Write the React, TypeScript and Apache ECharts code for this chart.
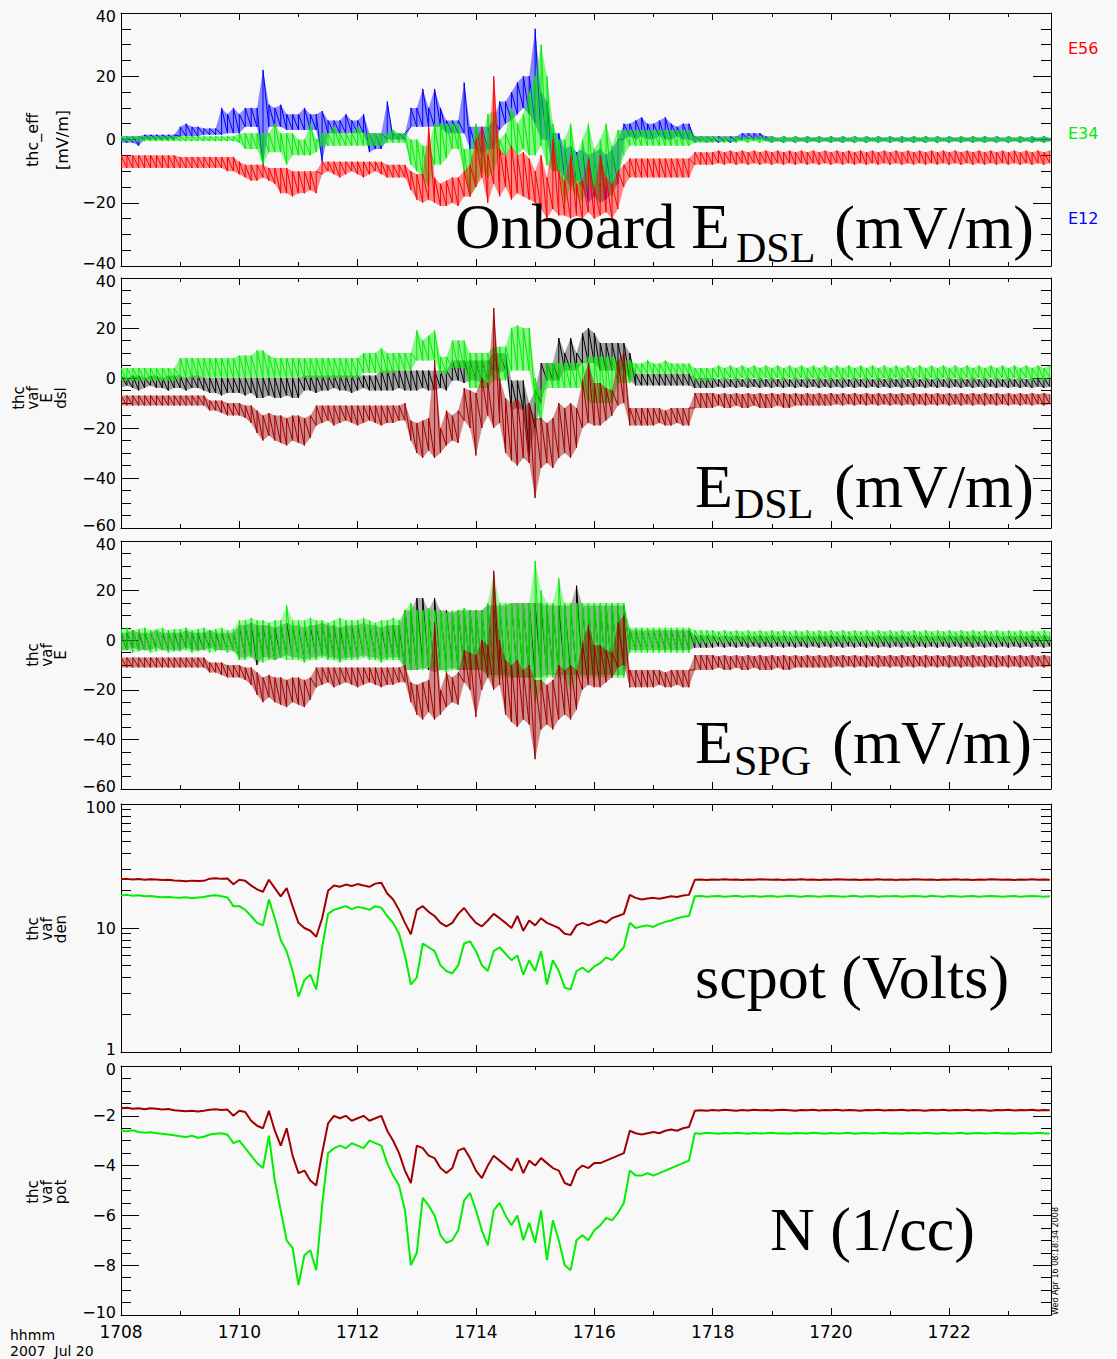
import React, { useEffect, useRef } from "react";
import * as echarts from "echarts";

// Sample grid: minutes after 17:08 UT, one sample every 0.1 min
const T: number[] = Array.from({ length: 158 }, (_, k) => k / 10);
const T_END = 15.72;
const X_MAJOR = [0, 2, 4, 6, 8, 10, 12, 14];
const X_MINOR = [1, 3, 5, 7, 9, 11, 13, 15];

// ---------- Panel 1: thc_eff (mV/m), lo/hi envelope per sample ----------
const E12_LO = [
  -1, -1, -1, -2, 0, 0, 0, 0, 0, 0,
  1, 1, 1, 1, 1.5, 1.5, 1.5, 1.5, 2, 2,
  2, 4, 4, 4, -8, 4, 4, 4, 3, 3,
  3, 3, 3, 3, -7, 2, 2, 2, 2, 2,
  2, 2, -4, -3, -3, 0, 0, 0, 0, 4,
  4, 4, 4, 4, 4, 2, 2, 2, 2, -3,
  -3, -5, -3, -3, 3, 5, 6, 8, 10, 8,
  5, 0, 0, -10, -10, -12, -15, -13, -15, -20,
  -18, -20, -19, -17, -14, 0, 1, 0, 1, 0,
  0, 1, 0, 0, 1, 0, 0, -1, -0.5, -1,
  -0.5, -1, -0.5, -1, -0.5, 0, 0, 0, 0, -0.5,
  -1, -0.5, -1, -0.5, -1, -0.5, -1, -0.5, -1, -0.5,
  -1, -0.5, -1, -0.5, -1, -0.5, -1, -0.5, -1, -0.5,
  -1, -0.5, -1, -0.5, -1, -0.5, -1, -0.5, -1, -0.5,
  -1, -0.5, -1, -0.5, -1, -0.5, -1, -0.5, -1, -0.5,
  -1, -0.5, -1, -0.5, -1, -0.5, -1, -0.5,
];
const E12_HI = [
  1, 1, 1, 1, 1.5, 1.5, 1.5, 1.5, 1.5, 1.5,
  4, 5, 4, 4, 3.5, 3.5, 3.5, 10, 8, 10,
  8, 10, 10, 10, 22, 11, 10, 11, 8, 8,
  8, 10, 8, 8, 9, 6, 6, 6, 8, 6,
  6, 8, 2, 2, 2, 12, 2, 2, 2, 10,
  10, 16, 10, 16, 10, 6, 6, 6, 18, 4,
  4, 4, 4, 6, 12, 12, 15, 18, 20, 20,
  35, 15, 12, 2, 2, -3, -2, -4, -3, -5,
  -4, -3, -5, -3, 0, 5, 5, 6, 7, 5,
  5, 6, 7, 5, 4, 5, 5, 1, 1, 1,
  1, 1, 1, 1, 1, 2, 2, 2, 2, 1,
  1, 0.5, 1, 0.5, 1, 0.5, 1, 0.5, 1, 0.5,
  1, 0.5, 1, 0.5, 1, 0.5, 1, 0.5, 1, 0.5,
  1, 0.5, 1, 0.5, 1, 0.5, 1, 0.5, 1, 0.5,
  1, 0.5, 1, 0.5, 1, 0.5, 1, 0.5, 1, 0.5,
  1, 0.5, 1, 0.5, 1, 0.5, 1, 0.5,
];
const E34_LO = [
  -0.5, -0.5, -0.5, -0.5, -0.5, -0.5, -0.5, -0.5, -0.5, -0.5,
  -0.5, -0.5, -0.5, -0.5, -0.5, -0.5, -0.5, -0.5, -0.5, -0.5,
  -1, -3, -3, -3, -8, -4, -4, -4, -8, -5,
  -5, -5, -5, -4, -2, -2, -2, -2, -2, -2,
  -2, -2, -2, -2, -2, -1, -1, -1, -1, -8,
  -10, -12, -15, -8, -8, -6, -3, -3, -10, -18,
  -15, -10, -12, -10, -5, -5, -3, -5, -3, -5,
  -5, -2, -8, -10, -10, -20, -15, -18, -20, -14,
  -17, -20, -15, -18, -12, -5, -2, -2, -2, -2,
  -2, -2, -2, -2, -2, -2, -2, -1, -1, -1,
  -1, -0.5, -1, -0.5, -1, -0.5, -1, -0.5, -1, -0.5,
  -1, -0.5, -1, -0.5, -1, -0.5, -1, -0.5, -1, -0.5,
  -1, -0.5, -1, -0.5, -1, -0.5, -1, -0.5, -1, -0.5,
  -1, -0.5, -1, -0.5, -1, -0.5, -1, -0.5, -1, -0.5,
  -1, -0.5, -1, -0.5, -1, -0.5, -1, -0.5, -1, -0.5,
  -1, -0.5, -1, -0.5, -1, -0.5, -1, -0.5,
];
const E34_HI = [
  1, 1, 1, 1, 1, 1, 1, 1, 1, 1,
  1, 1, 1, 1, 1, 1, 1, 1, 1, 1,
  2, 2, 2, 2, 2, 2, 5, 2, 2, 2,
  0, 0, 5, 0, 2, 2, 4, 2, 2, 2,
  4, 2, 2, 2, 2, 2, 3, 2, 2, 0,
  0, -2, -2, 5, 5, 5, 5, 5, -3, -3,
  5, 0, 8, 9, 0, 2, 10, 5, 8, 15,
  20, 30, 20, 5, 0, 0, 5, -5, 0, 5,
  -3, 0, 5, -2, 3, 3, 3, 3, 3, 3,
  3, 3, 3, 3, 3, 3, 3, 1, 1, 1,
  1, 0.5, 1, 0.5, 1, 0.5, 1, 0.5, 1, 0.5,
  1, 0.5, 1, 0.5, 1, 0.5, 1, 0.5, 1, 0.5,
  1, 0.5, 1, 0.5, 1, 0.5, 1, 0.5, 1, 0.5,
  1, 0.5, 1, 0.5, 1, 0.5, 1, 0.5, 1, 0.5,
  1, 0.5, 1, 0.5, 1, 0.5, 1, 0.5, 1, 0.5,
  1, 0.5, 1, 0.5, 1, 0.5, 1, 0.5,
];
const E56_LO = [
  -9, -9, -9, -9, -9, -9, -9, -9, -9, -9,
  -9, -9, -9, -9, -9, -9, -9, -9, -10, -10,
  -11, -12, -13, -13, -12, -13, -14, -17, -17, -18,
  -17, -17, -16, -17, -11, -10, -11, -12, -11, -10,
  -11, -12, -11, -10, -11, -12, -12, -12, -12, -16,
  -19, -20, -19, -20, -21, -21, -20, -21, -18, -18,
  -15, -12, -20, -14, -18, -15, -19, -17, -18, -19,
  -20, -22, -25, -22, -24, -24, -25, -24, -25, -23,
  -25, -24, -23, -25, -22, -15, -12, -12, -12, -12,
  -12, -12, -12, -12, -12, -12, -12, -8, -8, -8,
  -8, -7.5, -8, -7.5, -8, -7.5, -8, -7.5, -8, -7.5,
  -8, -7.5, -8, -7.5, -8, -7.5, -8, -7.5, -8, -7.5,
  -8, -7.5, -8, -7.5, -8, -7.5, -8, -7.5, -8, -7.5,
  -8, -7.5, -8, -7.5, -8, -7.5, -8, -7.5, -8, -7.5,
  -8, -7.5, -8, -7.5, -8, -7.5, -8, -7.5, -8, -7.5,
  -8, -7.5, -8, -7.5, -8, -7.5, -8, -7.5,
];
const E56_HI = [
  -5, -5, -5, -5, -5, -5, -5, -5, -5, -5,
  -5.5, -5.5, -5.5, -5.5, -5.5, -5.5, -5.5, -5.5, -5.5, -5.5,
  -7, -8, -8, -8, -8, -9, -9, -9, -9, -10,
  -10, -10, -10, -10, -7, -7, -7, -7, -7, -7,
  -7, -7, -7, -7, -7, -8, -8, -8, -8, -10,
  -11, -11, 4, -12, -14, -13, -12, -12, -10, -8,
  0, 4, -5, 20, -3, -5, -2, -5, -4, -6,
  -10, -5, -12, 0, -10, -13, -5, -14, -13, -6,
  -15, -5, -12, -14, -10, -8, -6, -6, -6, -6,
  -6, -6, -6, -6, -6, -6, -6, -4, -4, -4,
  -4, -3.5, -4, -3.5, -4, -3.5, -4, -3.5, -4, -3.5,
  -4, -3.5, -4, -3.5, -4, -3.5, -4, -3.5, -4, -3.5,
  -4, -3.5, -4, -3.5, -4, -3.5, -4, -3.5, -4, -3.5,
  -4, -3.5, -4, -3.5, -4, -3.5, -4, -3.5, -4, -3.5,
  -4, -3.5, -4, -3.5, -4, -3.5, -4, -3.5, -4, -3.5,
  -4, -3.5, -4, -3.5, -4, -3.5, -4, -3.5,
];

// ---------- Panels 2 & 3: E-field (mV/m) ----------
// Ez (shown in both DSL and SPG panels)
const EZ_LO = [
  -11, -11, -11, -11, -11, -11, -11, -11, -11, -11,
  -11, -11, -11, -11, -11, -13, -13, -14, -15, -15,
  -15, -16, -18, -22, -25, -23, -25, -26, -27, -25,
  -26, -27, -24, -19, -18, -17, -19, -18, -17, -18,
  -19, -18, -17, -18, -19, -18, -18, -17, -17, -25,
  -30, -32, -29, -32, -30, -27, -25, -26, -17, -20,
  -31, -20, -15, -20, -18, -30, -33, -35, -32, -34,
  -48, -36, -34, -36, -32, -30, -32, -28, -20, -18,
  -19, -19, -17, -15, -11, -10, -19, -19, -19, -19,
  -19, -18, -19, -19, -18, -19, -19, -12, -12, -12,
  -12, -11, -12, -12, -11, -12, -12, -11, -12, -12,
  -12, -11, -12, -12, -11, -11, -11, -11, -11, -11,
  -11, -10.5, -11, -10.5, -11, -10.5, -11, -10.5, -11, -10.5,
  -11, -10.5, -11, -10.5, -11, -10.5, -11, -10.5, -11, -10.5,
  -11, -10.5, -11, -10.5, -11, -10.5, -11, -10.5, -11, -10.5,
  -11, -10.5, -11, -10.5, -11, -10.5, -11, -10.5,
];
const EZ_HI = [
  -7, -7, -7, -7, -7, -7, -7, -7, -7, -7,
  -7, -7, -7, -7, -7, -9, -9, -9, -10, -10,
  -10, -11, -11, -13, -15, -14, -15, -15, -16, -15,
  -15, -16, -15, -11, -11, -11, -11, -11, -11, -11,
  -11, -11, -11, -11, -11, -11, -11, -11, -10, -17,
  -18, -17, -16, 7, -20, -13, -15, -13, -4, -5,
  -6, 0, -2, 28, 0, -8, -10, -8, -12, -10,
  -16, -16, -18, -16, -10, -12, -10, -12, -1, 6,
  -2, -2, -4, -5, 7, 10, -12, -12, -12, -12,
  -12, -12, -13, -12, -12, -12, -12, -6, -6, -6,
  -6, -6.5, -6, -6.5, -6, -6.5, -6, -6.5, -6, -6.5,
  -6, -6.5, -6, -6.5, -6, -6.5, -6, -6.5, -6, -6.5,
  -6, -6.5, -6, -6.5, -6, -6.5, -6, -6.5, -6, -6.5,
  -6, -6.5, -6, -6.5, -6, -6.5, -6, -6.5, -6, -6.5,
  -6, -6.5, -6, -6.5, -6, -6.5, -6, -6.5, -6, -6.5,
  -6, -6.5, -6, -6.5, -6, -6.5, -6, -6.5,
];
// Ex DSL (black)
const EXD_LO = [
  -4, -3, -4, -5, -4, -3, -4, -4, -5, -4,
  -4, -5, -4, -4, -5, -6, -6, -7, -6, -6,
  -6, -7, -6, -8, -8, -7, -8, -8, -7, -8,
  -8, -5, -5, -6, -5, -5, -4, -5, -5, -6,
  -5, -4, -5, -5, -5, -5, -5, -4, -5, -5,
  -5, -4, -5, -5, -4, -5, -1, -1, -2, -1,
  -1, -2, -1, 3, 2, 3, -13, -12, -13, -31,
  -20, -10, -1, -1, -1, 3, 3, 3, 6, 6,
  6, 3, 3, 3, 3, 3, -1, -3, -3, -3,
  -3, -3, -3, -3, -3, -3, -3, -4, -4, -4,
  -4, -3.5, -4, -3.5, -4, -3.5, -4, -3.5, -4, -3.5,
  -4, -3.5, -4, -3.5, -4, -3.5, -4, -3.5, -4, -3.5,
  -4, -3.5, -4, -3.5, -4, -3.5, -4, -3.5, -4, -3.5,
  -4, -3.5, -4, -3.5, -4, -3.5, -4, -3.5, -4, -3.5,
  -4, -3.5, -4, -3.5, -4, -3.5, -4, -3.5, -4, -3.5,
  -4, -3.5, -4, -3.5, -4, -3.5, -4, -3.5,
];
const EXD_HI = [
  1, 0, 1, 1, 0, 1, 1, 0, 1, 1,
  1, 0, 1, 1, 0, 0, 0, 0, 0, 0,
  0, 0, 0, 0, 0, 0, 0, 0, 0, 0,
  0, 1, 1, 1, 1, 1, 1, 1, 1, 1,
  1, 1, 1, 1, 3, 3, 3, 3, 3, 3,
  3, 3, 3, 3, 3, 3, 7, 7, 7, 7,
  7, 7, 7, 10, 10, 10, -1, -1, -1, -10,
  -5, 6, 6, 6, 16, 10, 16, 10, 18, 20,
  18, 14, 14, 14, 14, 14, 10, 1.7, 1.7, 1.7,
  1.7, 1.7, 1.7, 1.7, 1.7, 1.7, 1.7, 0, 0, 0,
  0, -0.5, 0, -0.5, 0, -0.5, 0, -0.5, 0, -0.5,
  0, -0.5, 0, -0.5, 0, -0.5, 0, -0.5, 0, -0.5,
  0, -0.5, 0, -0.5, 0, -0.5, 0, -0.5, 0, -0.5,
  0, -0.5, 0, -0.5, 0, -0.5, 0, -0.5, 0, -0.5,
  0, -0.5, 0, -0.5, 0, -0.5, 0, -0.5, 0, -0.5,
  0, -0.5, 0, -0.5, 0, -0.5, 0, -0.5,
];
// Ey DSL (green)
const EYD_LO = [
  -1, -1, -1, -1, -1, -1, -1, -1, -1, -1,
  0, 0, 0, 0, 0, 0, 0, 0, 0, 0,
  0, 0, 0, 0, 0, 0, 0, 0, 0, 0,
  0, 0, 0, 0, 0, 0, 0, 0, 0, 0,
  0, 2, 2, 2, 2, 2, 2, 3, 3, 3,
  7, 7, 7, 7, 1.7, 1.7, 4, 4, 4, -4,
  -4, -4, -4, -1, -1, -1, 3, 3, 3, 3,
  -10, -19, -4, -4, -4, -4, -4, -4, -4, -10,
  -10, -10, -10, -10, -2, -2, -2, 1.7, 1.7, 1.7,
  1.7, 1.7, 1.7, 1.7, 1.7, 1.7, 1.7, -1, -1, -1,
  -1, 0, -1, 0, -1, 0, -1, 0, -1, 0,
  -1, 0, -1, 0, -1, 0, -1, 0, -1, 0,
  -1, 0, -1, 0, -1, 0, -1, 0, -1, 0,
  -1, 0, -1, 0, -1, 0, -1, 0, -1, 0,
  -1, 0, -1, 0, -1, 0, -1, 0, -1, 0,
  -1, 0, -1, 0, -1, 0, -1, 0,
];
const EYD_HI = [
  4, 4, 4, 4, 4, 4, 4, 4, 4, 4,
  8, 8, 8, 8, 8, 8, 8, 8, 8, 8,
  9, 9, 9, 11, 11, 9, 8, 8, 8, 8,
  8, 8, 8, 8, 8, 8, 8, 8, 8, 8,
  8, 10, 10, 10, 12, 10, 10, 10, 10, 10,
  19, 15, 17, 19, 8.5, 8.5, 15, 15, 15, 10,
  10, 10, 10, 12.5, 12.5, 12.5, 20, 21, 20, 20,
  0, -5, 6, 6, 6, 6, 6, 6, 6, 8.5,
  8.5, 8.5, 8.5, 8.5, 7, 7, 7, 5.8, 5.8, 7,
  5.8, 5.8, 7, 5.8, 5.8, 5.8, 5.8, 4, 4, 4,
  4, 5, 4, 5, 4, 5, 4, 5, 4, 5,
  4, 5, 4, 5, 4, 5, 4, 5, 4, 5,
  4, 5, 4, 5, 4, 5, 4, 5, 4, 5,
  4, 5, 4, 5, 4, 5, 4, 5, 4, 5,
  4, 5, 4, 5, 4, 5, 4, 5, 4, 5,
  4, 5, 4, 5, 4, 5, 4, 5,
];
// Ex SPG (black)
const EXS_LO = [
  -4, -4, -3, -4, -4, -4, -3, -4, -4, -4,
  -4, -3, -4, -4, -4, -3, -4, -4, -4, -4,
  -7, -7, -6, -10, -7, -7, -8, -7, -6, -7,
  -7, -8, -7, -7, -6, -7, -7, -8, -7, -7,
  -7, -6, -7, -7, -8, -7, -7, -7, -12, -12,
  -12, -11, -12, -13, -12, -12, -11, -12, -12, -12,
  -12, -12, -14, -14, -14, -14, -15, -15, -15, -15,
  -15, -15, -14, -14, -14, -14, -14, -14, -14, -14,
  -14, -14, -14, -14, -14, -14, -4, -4, -4, -4,
  -4, -4, -4, -4, -4, -4, -4, -3, -3, -3,
  -3, -2.5, -3, -2.5, -3, -2.5, -3, -2.5, -3, -2.5,
  -3, -2.5, -3, -2.5, -3, -2.5, -3, -2.5, -3, -2.5,
  -3, -2.5, -3, -2.5, -3, -2.5, -3, -2.5, -3, -2.5,
  -3, -2.5, -3, -2.5, -3, -2.5, -3, -2.5, -3, -2.5,
  -3, -2.5, -3, -2.5, -3, -2.5, -3, -2.5, -3, -2.5,
  -3, -2.5, -3, -2.5, -3, -2.5, -3, -2.5,
];
const EXS_HI = [
  3, 3, 4, 3, 3, 3, 4, 3, 3, 3,
  3, 4, 3, 3, 3, 4, 3, 3, 3, 3,
  6, 6, 7, 6, 6, 6, 5, 6, 7, 6,
  6, 5, 6, 6, 7, 6, 6, 5, 6, 6,
  6, 7, 6, 6, 5, 6, 6, 6, 12, 12,
  17, 17, 12, 17, 12, 12, 11, 12, 12, 12,
  12, 12, 14, 14, 14, 14, 15, 15, 15, 15,
  15, 15, 14, 14, 14, 14, 14, 22, 14, 14,
  14, 14, 14, 14, 14, 14, 4, 4, 4, 4,
  4, 4, 4, 4, 4, 4, 4, 2, 2, 2,
  2, 1.5, 2, 1.5, 2, 1.5, 2, 1.5, 2, 1.5,
  2, 1.5, 2, 1.5, 2, 1.5, 2, 1.5, 2, 1.5,
  2, 1.5, 2, 1.5, 2, 1.5, 2, 1.5, 2, 1.5,
  2, 1.5, 2, 1.5, 2, 1.5, 2, 1.5, 2, 1.5,
  2, 1.5, 2, 1.5, 2, 1.5, 2, 1.5, 2, 1.5,
  2, 1.5, 2, 1.5, 2, 1.5, 2, 1.5,
];
// Ey SPG (green)
const EYS_LO = [
  -4.5, -4, -5, -4.5, -4, -5, -4.5, -4, -5, -4.5,
  -4.5, -4, -5, -4.5, -4, -5, -4.5, -4, -5, -4.5,
  -8, -8, -7, -8, -9, -8, -8, -7, -8, -8,
  -8, -9, -8, -8, -7, -8, -8, -9, -8, -8,
  -8, -7, -8, -8, -9, -8, -8, -8, -12, -12,
  -12, -12, -11, -12, -12, -13, -12, -12, -11, -12,
  -12, -12, -15, -15, -15, -15, -15, -15, -15, -15,
  -25, -20, -15, -15, -15, -15, -20, -15, -15, -15,
  -15, -15, -15, -15, -15, -15, -5, -5, -5, -5,
  -5, -5, -5, -5, -5, -5, -5, -1, -1, -1,
  -1, -0.5, -1, -0.5, -1, -0.5, -1, -0.5, -1, -0.5,
  -1, -0.5, -1, -0.5, -1, -0.5, -1, -0.5, -1, -0.5,
  -1, -0.5, -1, -0.5, -1, -0.5, -1, -0.5, -1, -0.5,
  -1, -0.5, -1, -0.5, -1, -0.5, -1, -0.5, -1, -0.5,
  -1, -0.5, -1, -0.5, -1, -0.5, -1, -0.5, -1, -0.5,
  -1, -0.5, -1, -0.5, -1, -0.5, -1, -0.5,
];
const EYS_HI = [
  4.5, 5, 4, 4.5, 5, 4, 4.5, 5, 4, 4.5,
  4.5, 5, 4, 4.5, 5, 4, 4.5, 5, 4, 4.5,
  8, 8, 9, 8, 8, 7, 8, 8, 14, 8,
  8, 8, 9, 8, 8, 7, 8, 9, 8, 8,
  8, 9, 8, 7, 8, 8, 9, 8, 12, 15,
  12, 12, 13, 12, 12, 11, 12, 12, 13, 12,
  12, 12, 15, 27, 15, 15, 15, 15, 15, 15,
  32, 20, 15, 15, 25, 15, 15, 15, 15, 15,
  15, 15, 15, 15, 15, 15, 5, 5, 5, 5,
  5, 5, 5, 5, 5, 5, 5, 4, 4, 4,
  4, 3.5, 4, 3.5, 4, 3.5, 4, 3.5, 4, 3.5,
  4, 3.5, 4, 3.5, 4, 3.5, 4, 3.5, 4, 3.5,
  4, 3.5, 4, 3.5, 4, 3.5, 4, 3.5, 4, 3.5,
  4, 3.5, 4, 3.5, 4, 3.5, 4, 3.5, 4, 3.5,
  4, 3.5, 4, 3.5, 4, 3.5, 4, 3.5, 4, 3.5,
  4, 3.5, 4, 3.5, 4, 3.5, 4, 3.5,
];

// ---------- Panel 4: density (log) ----------
const DEN_R = [
  24.7, 24.9, 24.6, 24.8, 24.5, 24.7, 24.6, 24.4, 24.5, 24.2,
  24, 23.8, 24.1, 23.9, 24, 25, 25.2, 24.9, 25.1, 22.5,
  24.5, 24, 22, 20.5, 19.6, 24.5, 21, 18, 21, 15,
  11, 10, 9.5, 8.5, 12, 20, 22, 21.5, 22.4, 21.8,
  22.6, 22, 21.5, 22.8, 23.2, 19, 17, 14, 11, 8.9,
  14, 15, 13.5, 12.5, 11, 10.3, 11, 13, 14.5, 12.5,
  11, 10.3, 11.5, 13, 12, 11, 10, 12.5, 9.5, 11.5,
  10.5, 12, 11, 10.5, 10, 9, 8.8, 10.5, 11, 10.5,
  11, 11.5, 11, 12, 12.5, 13, 18.5, 17.5, 17, 17.3,
  17.5, 17.2, 17.6, 18, 17.8, 18.3, 18.5, 24.5, 24.6, 24.4,
  24.6, 24.5, 24.7, 24.5, 24.6, 24.4, 24.6, 24.5, 24.7, 24.6,
  24.5, 24.6, 24.4, 24.6, 24.5, 24.7, 24.5, 24.6, 24.4, 24.6,
  24.5, 24.7, 24.6, 24.5, 24.6, 24.4, 24.6, 24.5, 24.7, 24.5,
  24.6, 24.4, 24.6, 24.5, 24.7, 24.6, 24.5, 24.6, 24.4, 24.6,
  24.5, 24.7, 24.5, 24.6, 24.4, 24.6, 24.5, 24.7, 24.6, 24.5,
  24.6, 24.4, 24.6, 24.5, 24.7, 24.5, 24.6, 24.5,
];
const DEN_G = [
  18.3, 18.5, 18.2, 18.4, 18, 18.1, 17.9, 17.7, 17.8, 17.6,
  17.5, 17.7, 17.4, 17.6, 17.8, 18.2, 18.4, 18, 17.6, 15,
  15, 14, 12.5, 11, 10.5, 17, 12, 8, 6.5, 4.5,
  2.8, 3.8, 4.2, 3.2, 7, 13, 14, 14.5, 15, 14.2,
  14.8, 14.5, 14, 15, 14.6, 12.5, 11, 9, 6, 3.5,
  4, 7.5, 7, 6.5, 5, 4.5, 4.3, 5, 7.5, 7.8,
  6.5, 5, 4.5, 6.5, 7, 6.2, 5.5, 6, 4.2, 5.5,
  4.5, 6.5, 3.5, 5.5, 4.5, 3.3, 3.2, 4.5, 4.8, 4.4,
  4.9, 5.2, 5.8, 5.5, 6.2, 7, 11, 10, 10.3, 10.5,
  10.2, 10.8, 11.2, 11.5, 12, 12.3, 12.5, 18, 18.1, 17.9,
  18, 18.1, 17.9, 18, 18.2, 17.9, 18, 18.1, 17.9, 18,
  18.1, 17.9, 18, 18.2, 18, 17.9, 18.1, 18, 17.9, 18,
  18.1, 18, 17.9, 18, 18.2, 17.9, 18, 18.1, 17.9, 18,
  18, 18.1, 17.9, 18, 18.1, 18, 17.9, 18.2, 18, 17.9,
  18.1, 18, 17.9, 18, 18.1, 17.9, 18, 18.1, 18, 17.9,
  18, 18.1, 17.9, 18, 18.1, 18, 17.9, 18,
];

// ---------- Panel 5: spacecraft potential (V) ----------
const POT_R = [
  -1.7, -1.68, -1.72, -1.7, -1.74, -1.7, -1.72, -1.75, -1.73, -1.78,
  -1.8, -1.82, -1.8, -1.83, -1.8, -1.76, -1.74, -1.77, -1.75, -2.0,
  -1.8, -1.85, -2.2, -2.4, -2.5, -1.8, -2.6, -3.2, -2.5, -3.6,
  -4.3, -4.2, -4.6, -4.8, -3.5, -2.3, -2.0, -2.1, -2.0, -2.2,
  -2.1, -2.0, -2.2, -2.1, -2.0, -2.6, -3.0, -3.5, -4.2, -4.7,
  -3.2, -3.3, -3.6, -3.7, -4.1, -4.3, -4.1, -3.4, -3.3, -3.7,
  -4.2, -4.5, -4.0, -3.6, -3.8, -4.0, -4.2, -3.7, -4.3, -3.8,
  -4.0, -3.7, -3.9, -4.1, -4.2, -4.7, -4.8, -4.2, -4.0, -4.1,
  -3.9, -3.9, -3.8, -3.7, -3.6, -3.5, -2.6, -2.7, -2.75, -2.7,
  -2.65, -2.7, -2.6, -2.55, -2.6, -2.5, -2.45, -1.8, -1.78, -1.8,
  -1.77, -1.79, -1.76, -1.78, -1.8, -1.77, -1.79, -1.76, -1.78, -1.77,
  -1.79, -1.77, -1.76, -1.78, -1.8, -1.77, -1.78, -1.76, -1.79, -1.77,
  -1.78, -1.76, -1.79, -1.77, -1.78, -1.8, -1.77, -1.78, -1.76, -1.79,
  -1.77, -1.78, -1.76, -1.79, -1.77, -1.78, -1.8, -1.77, -1.78, -1.76,
  -1.79, -1.77, -1.78, -1.76, -1.79, -1.77, -1.78, -1.8, -1.77, -1.78,
  -1.76, -1.79, -1.77, -1.78, -1.76, -1.79, -1.77, -1.78,
];
const POT_G = [
  -2.6, -2.62, -2.58, -2.65, -2.68, -2.66, -2.7, -2.72, -2.75, -2.78,
  -2.82, -2.85, -2.8, -2.88, -2.84, -2.75, -2.72, -2.7, -2.76, -3.1,
  -3.0, -3.3, -3.6, -3.9, -4.1, -2.8, -4.6, -5.8, -7.0, -7.3,
  -8.8, -7.6, -7.4, -8.2, -5.6, -3.5, -3.3, -3.2, -3.3, -3.1,
  -3.2, -3.3, -3.0, -3.1, -3.2, -3.9, -4.4, -4.8, -5.8, -8.0,
  -7.5, -5.3, -5.6, -6.0, -6.8, -7.1, -7.0, -6.6, -5.4, -5.1,
  -5.8, -6.6, -7.2, -5.8, -5.5, -6.0, -6.4, -6.0, -7.0, -6.3,
  -7.1, -5.8, -7.8, -6.2, -7.0, -8.0, -8.2, -7.0, -6.8, -7.0,
  -6.6, -6.4, -6.1, -6.2, -5.9, -5.5, -4.2, -4.4, -4.4, -4.3,
  -4.4, -4.3, -4.2, -4.1, -4.0, -3.9, -3.8, -2.7, -2.72, -2.68,
  -2.7, -2.72, -2.69, -2.71, -2.68, -2.7, -2.72, -2.69, -2.71, -2.7,
  -2.68, -2.71, -2.7, -2.72, -2.69, -2.7, -2.71, -2.68, -2.7, -2.72,
  -2.69, -2.71, -2.7, -2.68, -2.72, -2.7, -2.69, -2.71, -2.7, -2.68,
  -2.71, -2.7, -2.72, -2.69, -2.7, -2.71, -2.68, -2.7, -2.72, -2.69,
  -2.71, -2.7, -2.68, -2.72, -2.7, -2.69, -2.71, -2.7, -2.68, -2.71,
  -2.7, -2.72, -2.69, -2.7, -2.71, -2.68, -2.7, -2.71,
];

// ---------- Tick values ----------
const LOG_MAJOR = [1, 10, 100];
const LOG_MINOR = [2, 3, 4, 5, 6, 7, 8, 9, 20, 30, 40, 50, 60, 70, 80, 90];

// ---------- Colours ----------
const RED = "#ff0000";
const GREEN = "#00ee00";
const BLUE = "#0000ff";
const DARKRED = "#a00000";
const BLACK = "#000000";
const BG = "#f8f8f8";

const PANEL_TOP = [13, 278, 541, 804, 1066];
const PANEL_H = [253, 250, 248, 248, 249];
const PLOT_LEFT = 121;
const PLOT_W = 930;

function toLine(v: number[]) {
  const n = Math.min(v.length, T.length);
  const out: number[][] = [];
  for (let k = 0; k < n; k++) out.push([T[k], v[k]]);
  return out;
}
const minus = (v: number) => (v < 0 ? "\u2212" + Math.abs(v) : String(v));

const FONT = { fontFamily: "DejaVu Sans", fontSize: 16, color: "#000" };

// edge labels are nudged a little into their own panel so neighbouring panels' labels don't collide
const edgeLabel = (min: number, max: number, fmt: (v: number) => string) => ({
  show: true, margin: 5, ...FONT, lineHeight: 14,
  formatter: (v: number) => {
    const s = fmt(v);
    if (v === min) return `{lo|${s}}`;
    if (v === max) return `{hi|${s}}`;
    return s;
  },
  rich: {
    lo: { ...FONT, lineHeight: 14, padding: [0, 0, 6, 0] },
    hi: { ...FONT, lineHeight: 14, padding: [6, 0, 0, 0] },
  },
});

function buildOption() {
  const grid = PANEL_TOP.map((top, i) => ({ left: PLOT_LEFT, width: PLOT_W, top, height: PANEL_H[i], show: false }));
  const xAxis: any[] = [];
  const yAxis: any[] = [];
  const dataX: number[] = [];
  const dataY: number[] = [];

  for (let i = 0; i < 5; i++) {
    const base = {
      type: "value", gridIndex: i, min: 0, max: T_END,
      splitLine: { show: false }, minorTick: { show: false },
    };
    const axLine = { show: true, onZero: false, lineStyle: { color: "#000", width: 1 } };
    dataX[i] = xAxis.length;
    xAxis.push({
      ...base, position: "bottom", axisLine: axLine,
      axisTick: { show: true, inside: true, length: 7, customValues: X_MAJOR, lineStyle: { color: "#000" } },
      axisLabel: i === 4
        ? { show: true, customValues: X_MAJOR, margin: 10, ...FONT, fontSize: 17, lineHeight: 14, formatter: (v: number) => String(1708 + v) }
        : { show: false },
    });
    xAxis.push({
      ...base, position: "bottom", axisLine: { show: false, onZero: false },
      axisTick: { show: true, inside: true, length: 4, customValues: X_MINOR, lineStyle: { color: "#000" } },
      axisLabel: { show: false },
    });
    xAxis.push({
      ...base, position: "top", axisLine: axLine,
      axisTick: { show: true, inside: true, length: 7, customValues: X_MAJOR, lineStyle: { color: "#000" } },
      axisLabel: { show: false },
    });
    xAxis.push({
      ...base, position: "top", axisLine: { show: false, onZero: false },
      axisTick: { show: true, inside: true, length: 4, customValues: X_MINOR, lineStyle: { color: "#000" } },
      axisLabel: { show: false },
    });

    if (i === 3) {
      dataY[i] = yAxis.length;
      yAxis.push({ type: "log", logBase: 10, gridIndex: i, min: 1, max: 100, show: false });
      for (const pos of ["left", "right"]) {
        const b = { type: "value", gridIndex: i, min: 0, max: 2, position: pos, splitLine: { show: false } };
        yAxis.push({
          ...b, axisLine: { show: true, onZero: false, lineStyle: { color: "#000", width: 1 } },
          axisTick: { show: true, inside: true, length: 18, customValues: LOG_MAJOR.map((v) => Math.log10(v)), lineStyle: { color: "#000" } },
          axisLabel: pos === "left"
            ? { ...edgeLabel(0, 2, (v) => String(LOG_MAJOR[Math.round(v)])), customValues: LOG_MAJOR.map((v) => Math.log10(v)) }
            : { show: false },
        });
        yAxis.push({
          ...b, axisLine: { show: false, onZero: false },
          axisTick: { show: true, inside: true, length: 10, customValues: LOG_MINOR.map((v) => Math.log10(v)), lineStyle: { color: "#000" } },
          axisLabel: { show: false },
        });
      }
    } else {
      const ext = i === 0 ? [-40, 40, 20] : i === 4 ? [-10, 0, 2] : [-60, 40, 20];
      for (const pos of ["left", "right"]) {
        if (pos === "left") dataY[i] = yAxis.length;
        yAxis.push({
          type: "value", gridIndex: i, min: ext[0], max: ext[1], interval: ext[2], position: pos,
          splitLine: { show: false },
          axisLine: { show: true, onZero: false, lineStyle: { color: "#000", width: 1 } },
          axisTick: { show: true, inside: true, length: 18, lineStyle: { color: "#000" } },
          minorTick: { show: true, splitNumber: 4, length: 10, lineStyle: { color: "#000" } },
          axisLabel: pos === "left" ? edgeLabel(ext[0], ext[1], minus) : { show: false },
        });
      }
    }
  }

  // Envelope band between the lo and hi readings: light fill + a sawtooth trace (lo→hi at each sample)
  const bandSeries = (i: number, lo: number[], hi: number[], color: string, z: number, fillOpacity: number) => ({
    type: "custom", xAxisIndex: dataX[i], yAxisIndex: dataY[i], z, silent: true, clip: true,
    data: [[0, 0]],
    renderItem: (_p: any, api: any) => {
      const n = Math.min(lo.length, hi.length, T.length);
      const poly: number[][] = [];
      const saw: number[][] = [];
      for (let k = 0; k < n; k++) {
        const a = api.coord([T[k], lo[k]]);
        const b = api.coord([T[k], hi[k]]);
        poly.push(a);
        saw.push(a, b);
      }
      for (let k = n - 1; k >= 0; k--) poly.push(api.coord([T[k], hi[k]]));
      return {
        type: "group",
        children: [
          { type: "polygon", shape: { points: poly }, style: { fill: color, opacity: fillOpacity } },
          { type: "polyline", shape: { points: saw }, style: { fill: "none", stroke: color, lineWidth: 1 } },
        ],
      };
    },
  });
  const lineSeries = (i: number, v: number[], color: string, z: number) => ({
    type: "line", xAxisIndex: dataX[i], yAxisIndex: dataY[i], data: toLine(v),
    showSymbol: false, symbol: "none", silent: true, clip: true, z,
    lineStyle: { color, width: 2 },
  });

  const series = [
    bandSeries(0, E12_LO, E12_HI, BLUE, 2, 0.45),
    bandSeries(0, E34_LO, E34_HI, GREEN, 3, 0.45),
    bandSeries(0, E56_LO, E56_HI, RED, 4, 0.45),
    bandSeries(1, EXD_LO, EXD_HI, BLACK, 2, 0.35),
    bandSeries(1, EYD_LO, EYD_HI, GREEN, 3, 0.45),
    bandSeries(1, EZ_LO, EZ_HI, DARKRED, 4, 0.45),
    bandSeries(2, EXS_LO, EXS_HI, BLACK, 2, 0.3),
    bandSeries(2, EYS_LO, EYS_HI, GREEN, 3, 0.35),
    bandSeries(2, EZ_LO, EZ_HI, DARKRED, 4, 0.45),
    lineSeries(3, DEN_R, DARKRED, 2),
    lineSeries(3, DEN_G, GREEN, 3),
    lineSeries(4, POT_R, DARKRED, 2),
    lineSeries(4, POT_G, GREEN, 3),
  ];

  const txt = (x: number, y: number, text: string, font: string, fill = "#000", align = "left", rotation = 0, lineHeight?: number) => ({
    type: "text", x, y, rotation, z: 100, silent: true,
    style: {
      text, font, fill, align, verticalAlign: "middle", textAlign: align, textVerticalAlign: "middle",
      ...(lineHeight ? { lineHeight } : {}),
    },
  });
  const SERIF = (s: number) => `${s}px "Liberation Serif"`;
  const SANS = (s: number) => `${s}px "DejaVu Sans"`;
  const R = Math.PI / 2;

  const graphic = [
    // left axis titles
    txt(32, 140, "thc_eff", SANS(16), "#000", "center", R),
    txt(62, 140, "[mV/m]", SANS(16), "#000", "center", R),
    txt(40, 398, "thc\nvaf\nE\ndsl", SANS(15), "#000", "center", R, 14.3),
    txt(47, 655, "thc\nvaf\nE", SANS(15), "#000", "center", R, 14.3),
    txt(47, 929, "thc\nvaf\nden", SANS(15), "#000", "center", R, 14.3),
    txt(47, 1192, "thc\nvaf\npot", SANS(15), "#000", "center", R, 14.3),
    // component labels panel 1
    txt(1068, 48, "E56", SANS(16), RED),
    txt(1068, 133, "E34", SANS(16), GREEN),
    txt(1068, 218, "E12", SANS(16), BLUE),
    // big annotations
    txt(455, 227, "Onboard E", SERIF(63)),
    txt(736, 248, "DSL", SERIF(42)),
    txt(1034, 227, "(mV/m)", SERIF(62), "#000", "right"),
    txt(695, 486, "E", SERIF(62)),
    txt(734, 504, "DSL", SERIF(42)),
    txt(1034, 486, "(mV/m)", SERIF(62), "#000", "right"),
    txt(695, 742, "E", SERIF(62)),
    txt(734, 761, "SPG", SERIF(42)),
    txt(1032, 742, "(mV/m)", SERIF(62), "#000", "right"),
    txt(695, 977, "scpot (Volts)", SERIF(62)),
    txt(770, 1229, "N (1/cc)", SERIF(62)),
    // time axis annotation
    txt(10, 1335, "hhmm", SANS(14), "#000", "left", 0, 13),
    txt(10, 1351, "2007  Jul 20", SANS(14), "#000", "left", 0, 13),
    txt(1055, 1261, "Wed Apr 16 08:18:34 2008", SANS(8), "#000", "center", R),
  ];

  return {
    animation: false,
    backgroundColor: BG,
    grid, xAxis, yAxis, series, graphic,
  };
}

export default function App() {
  const ref = useRef<HTMLDivElement>(null);
  useEffect(() => {
    if (!ref.current) return;
    const chart = echarts.init(ref.current, undefined, { renderer: "svg" });
    chart.setOption(buildOption() as any);
    return () => chart.dispose();
  }, []);
  return <div ref={ref} style={{ position: "absolute", left: 0, top: 0, width: 1117, height: 1359 }} />;
}
